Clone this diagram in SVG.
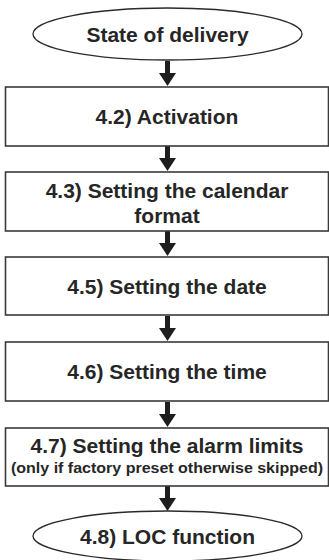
<svg xmlns="http://www.w3.org/2000/svg" width="329" height="560" viewBox="0 0 329 560">
<style>
.box{fill:#fff;stroke:#3a3a3a;stroke-width:1.6}
.ell{fill:#fff;stroke:#2a2a2a;stroke-width:1.3}
.t{font-family:"Liberation Sans",Arial,sans-serif;font-weight:bold;font-size:21px;fill:#262626;text-anchor:middle}
.s{font-size:15px}
.arr{fill:#1e1e1e}
</style>
<defs>
<g id="arrow"><rect x="165" y="0" width="5" height="14"/><polygon points="159,12 176,12 167.5,25"/></g>
</defs>
<rect width="329" height="560" fill="#fff"/>
<g id="connectors" class="arr">
<use href="#arrow" x="0" y="61"/>
<use href="#arrow" x="0" y="146"/>
<use href="#arrow" x="0" y="231"/>
<use href="#arrow" x="0" y="316"/>
<use href="#arrow" x="0" y="402"/>
<use href="#arrow" x="0" y="486"/>
</g>
<g id="n0"><ellipse class="ell" cx="167.5" cy="34" rx="134.5" ry="26"/><text class="t" x="167.5" y="41.5">State of delivery</text></g>
<g id="n1"><rect class="box" x="5.5" y="87" width="323" height="59"/><text class="t" x="167" y="124">4.2) Activation</text></g>
<g id="n2"><rect class="box" x="5.5" y="172" width="323" height="59"/><text class="t" x="167" y="198">4.3) Setting the calendar</text><text class="t" x="167" y="223">format</text></g>
<g id="n3"><rect class="box" x="5.5" y="257" width="323" height="58"/><text class="t" x="167" y="294">4.5) Setting the date</text></g>
<g id="n4"><rect class="box" x="5.5" y="342" width="323" height="59"/><text class="t" x="167" y="379">4.6) Setting the time</text></g>
<g id="n5"><rect class="box" x="5.5" y="428" width="323" height="58"/><text class="t" x="167" y="453">4.7) Setting the alarm limits</text><text class="t s" x="167" y="473" textLength="312" lengthAdjust="spacingAndGlyphs">(only if factory preset otherwise skipped)</text></g>
<g id="n6"><ellipse class="ell" cx="167.5" cy="536" rx="134.5" ry="25"/><text class="t" x="167.5" y="543.5">4.8) LOC function</text></g>
</svg>
